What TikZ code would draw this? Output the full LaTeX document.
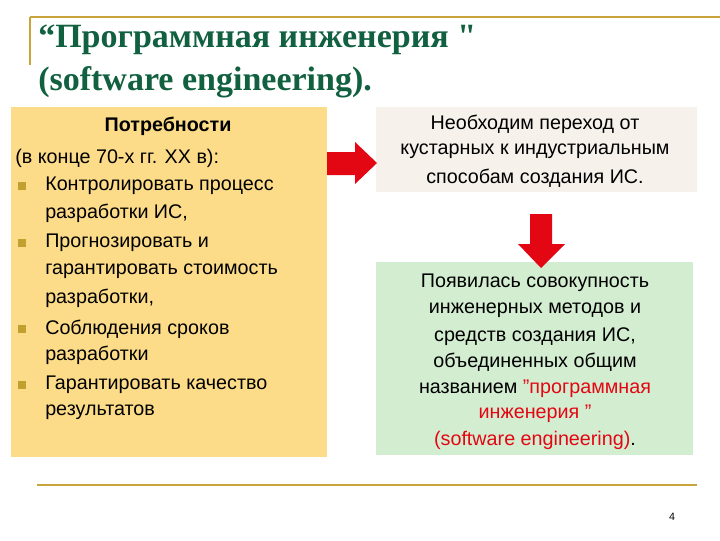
\documentclass[tikz,border=0pt]{standalone}
\usepackage{fontspec}
\setmainfont{Liberation Sans}
\newfontfamily\titlefont{Liberation Serif}
\begin{document}
\begin{tikzpicture}[x=0.75pt,y=-0.75pt,
  txt/.style={inner sep=0pt,font=\fontsize{14.8}{17}\selectfont},
  bul/.style={fill=bulc,minimum size=5.5pt,inner sep=0pt},
  gold/.style={draw=goldc,line width=2pt}]
\definecolor{goldc}{HTML}{C9A43A}
\definecolor{bulc}{HTML}{C2A030}
\definecolor{ttl}{HTML}{11603F}
\definecolor{yel}{HTML}{FCDC88}
\definecolor{beig}{HTML}{F6F2EB}
\definecolor{grn}{HTML}{D3EDD1}
\definecolor{rd}{HTML}{E30613}
\useasboundingbox (0,0) rectangle (720,540);
\draw[gold] (30,17) -- (720,17);
\draw[gold] (30,17) -- (30,65);
\draw[gold] (37,485) -- (697,485);
\node[anchor=west,inner sep=0pt,text=ttl,font=\titlefont\bfseries\fontsize{25.5}{30}\selectfont] (t1) at (38,40) {“Программная инженерия \char34};
\node[anchor=west,inner sep=0pt,text=ttl,font=\titlefont\bfseries\fontsize{25.5}{30}\selectfont] (t2) at (38,82) {(software engineering).};
\fill[yel] (11,107) rectangle (327,457);
\fill[beig] (376,107) rectangle (697,192);
\fill[grn] (376,262) rectangle (693,455);
\node[txt,font=\bfseries\fontsize{14.8}{17}\selectfont] (p0) at (168,126) {Потребности};
\node[txt,anchor=west] (p1) at (15,158) {(в конце 70-х гг. XX в):};
\foreach \y/\t/\b in {186/{Контролировать процесс}/1,213/{разработки ИС,}/0,243/{Прогнозировать и}/1,271/{гарантировать стоимость}/0,298/{разработки,}/0,329/{Соблюдения сроков}/1,355/{разработки}/0,385/{Гарантировать качество}/1,412/{результатов}/0}{
  \node[txt,anchor=west] at (45,\y) {\t};
  \ifnum\b=1 \node[bul] at (22,\y) {};\fi
}
\node[txt] at (535,124) {Необходим переход от};
\node[txt] at (535,151) {кустарных к индустриальным};
\node[txt] at (535,178) {способам создания ИС.};
\node[txt] at (535,283) {Появилась совокупность};
\node[txt] at (535,310) {инженерных методов и};
\node[txt] at (535,337) {средств создания ИС,};
\node[txt] at (535,362) {объединенных общим};
\node[txt] at (535,389) {названием \textcolor{rd}{\char34 программная}};
\node[txt,text=rd] at (535,414) {инженерия \char34};
\node[txt] at (535,440) {\textcolor{rd}{(software engineering)}.};
\fill[rd] (327,152) -- (355,152) -- (355,142) -- (377,163) -- (355,184) -- (355,175) -- (327,175) -- cycle;
\fill[rd] (530,214) -- (552,214) -- (552,244) -- (565,244) -- (541,268) -- (518,244) -- (530,244) -- cycle;
\node[inner sep=0pt,font=\fontsize{8}{9}\selectfont] (pg) at (672,517) {4};
\end{tikzpicture}
\end{document}
